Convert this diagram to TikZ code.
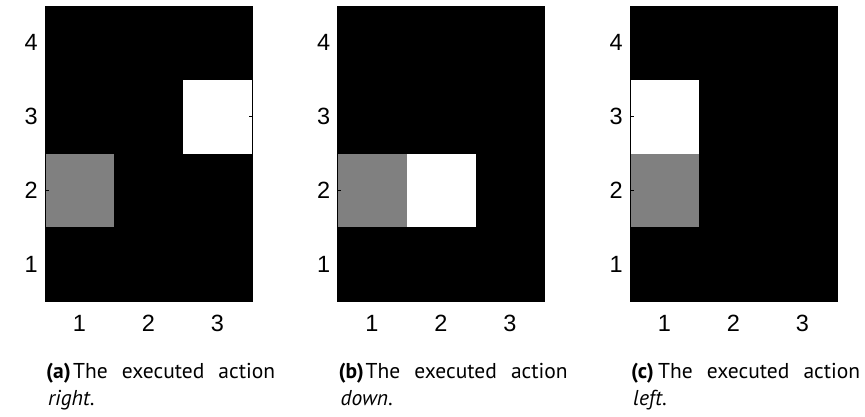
\documentclass[tikz,border=0pt]{standalone}
\usepackage{fontspec}
\setmainfont{PT Sans}
\newfontfamily\axisfont{Liberation Sans}
\definecolor{midgray}{RGB}{128,128,128}

\begin{document}
\begin{tikzpicture}[x=1pt,y=-1pt,
  axislab/.style={inner sep=0pt, font=\axisfont\fontsize{23.5}{23.5}\selectfont},
  captxt/.style={inner sep=0pt, anchor=base west, font=\fontsize{21.5}{27}\selectfont},
  tickline/.style={black, line width=0.9pt},
  framebox/.style={black, line width=0.9pt}]
\useasboundingbox (0,0) rectangle (865,416);

% three grid-world panels: x offset / top-left corner of the white cell / label / action
\foreach \off/\wx/\wy/\lab/\act [count=\p] in
  {0/183/79.75/a/right, 292.5/114/153.5/b/down, 585/45/79.75/c/left}{
  \begin{scope}[xshift=\off]
    % 3x4 image: black background, grey start cell, white cell
    \fill[black] (45,6) rectangle (252,301);
    \fill[midgray] (45,153.5) rectangle (114,227.25);
    \fill[white] (\wx,\wy) rectangle ++(69,73.75);
    % axis ticks pointing inwards
    \foreach \r in {1,...,4}{
      \pgfmathsetmacro\yc{301-73.75*(\r-0.5)}
      \draw[tickline] (45,\yc) -- (48.5,\yc);
      \draw[tickline] (252,\yc) -- (248.5,\yc);
      \node[axislab, anchor=east] (yl\p-\r) at (38,\yc) {\r};
    }
    \foreach \c in {1,...,3}{
      \pgfmathsetmacro\xc{45+69*(\c-0.5)}
      \draw[tickline] (\xc,301) -- (\xc,297.5);
      \draw[tickline] (\xc,6) -- (\xc,9.5);
      \node[axislab] (xl\p-\c) at (\xc,323) {\c};
    }
    \draw[framebox] (45,6) rectangle (252,301);
    % sub-caption: bold label, justified first line, second line at the left margin
    \node[captxt, font=\fontsize{21.5}{27}\selectfont\bfseries] (cl\p) at (46,378) {(\lab)};
    \node[captxt] (ca\p) at (73,378) {\makebox[202pt][s]{The executed action}};
    \node[captxt] (cb\p) at (48,405) {\textit{\act}.};
  \end{scope}
}
\end{tikzpicture}
\end{document}
